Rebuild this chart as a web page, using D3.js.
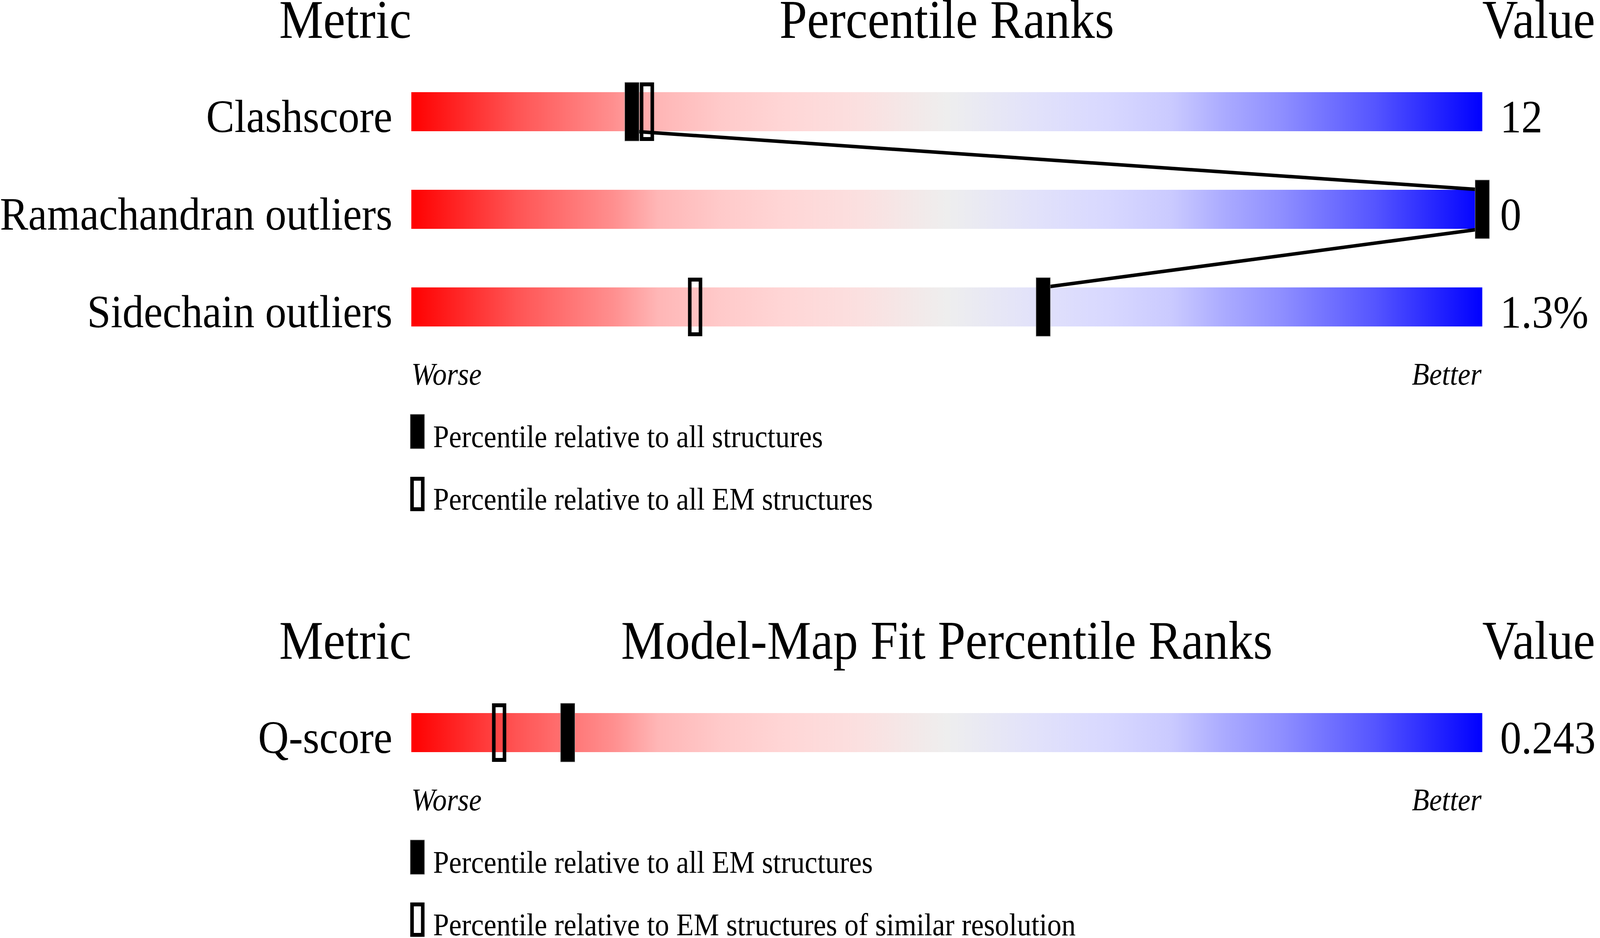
<!DOCTYPE html>
<html>
<head>
<meta charset="utf-8">
<script src="https://cdn.jsdelivr.net/npm/d3@7"></script>
<style>
  html, body { margin: 0; padding: 0; background: #ffffff; overflow: hidden; }
  svg { display: block; }
  text { font-family: "Liberation Serif", "Times New Roman", serif; fill: #000; }
</style>
</head>
<body>
<svg id="chart"></svg>
<script>
// ---------- data ----------
const geoMetrics = ["Clashscore", "Ramachandran outliers", "Sidechain outliers"];
const geoValues = ["12", "0", "1.3%"];
const geoPctAll = [20.6, 100, 59];      // filled marker: relative to all structures
const geoPctEM = [22, 100, 26.5];       // open marker: relative to all EM structures
const geoTitles = ["Metric", "Percentile Ranks", "Value"];
const geoLegend = ["Percentile relative to all structures", "Percentile relative to all EM structures"];

const fitMetrics = ["Q-score"];
const fitValues = ["0.243"];
const fitPctAll = [14.6];               // filled: relative to all EM structures
const fitPctRes = [8.2];                // open: relative to EM structures of similar resolution
const fitTitles = ["Metric", "Model-Map Fit Percentile Ranks", "Value"];
const fitLegend = ["Percentile relative to all EM structures", "Percentile relative to EM structures of similar resolution"];

const axisEnds = ["Worse", "Better"];

// gradient stops (offset %, colour)
const gradOffsets = [0, 10, 19, 23, 29, 35, 42, 50, 58, 65, 71, 76, 81, 90, 100];
const gradColors = ["#ff0000", "#ff5555", "#ff9090", "#ffb6b6", "#ffcaca", "#ffd6d6", "#fbe0e0",
                    "#eeeeee", "#e2e2fa", "#d8d8ff", "#cacaff", "#aaaaff", "#9090ff", "#5555ff", "#0000ff"];

// ---------- drawing ----------
const W = 4485, H = 2402;
const svg = d3.select("#chart")
  .attr("width", window.innerWidth).attr("height", window.innerHeight)
  .attr("viewBox", `0 0 ${W} ${H}`).attr("preserveAspectRatio", "none");
const x = d3.scaleLinear().domain([0, 100]).range([1153, 4155]);

const defs = svg.append("defs");
const grad = defs.append("linearGradient").attr("id", "slider")
  .attr("x1", "0%").attr("x2", "100%").attr("y1", "0%").attr("y2", "0%");
grad.selectAll("stop").data(gradOffsets).join("stop")
  .attr("offset", d => d + "%")
  .attr("stop-color", (d, i) => gradColors[i]);

const STEP = 250, MARK_W = 40, MARK_OVER = 25;

function section(g, titles, metrics, values, pctFilled, pctOpen, legend, titleY, firstBarY) {
  const y = d3.scaleBand()
    .domain(metrics)
    .range([firstBarY - STEP * 0.3, firstBarY - STEP * 0.3 + STEP * metrics.length])
    .paddingInner(0.6).paddingOuter(0.3);

  g.append("text").attr("x", x(0)).attr("y", titleY).attr("text-anchor", "end")
    .attr("font-size", 139).text(titles[0]);
  g.append("text").attr("x", (x(0) + x(100)) / 2).attr("y", titleY).attr("text-anchor", "middle")
    .attr("font-size", 139).text(titles[1]);
  g.append("text").attr("x", x(100)).attr("y", titleY).attr("text-anchor", "start")
    .attr("font-size", 139).text(titles[2]);

  g.selectAll("rect.bar").data(metrics).join("rect").attr("class", "bar")
    .attr("x", x(0)).attr("width", x(100) - x(0))
    .attr("y", d => y(d)).attr("height", y.bandwidth())
    .attr("fill", "url(#slider)");

  g.selectAll("text.lab").data(metrics).join("text").attr("class", "lab")
    .attr("x", 1100).attr("y", d => y(d) + y.bandwidth() + 2)
    .attr("text-anchor", "end").attr("font-size", 119).text(d => d);

  g.selectAll("text.val").data(values).join("text").attr("class", "val")
    .attr("x", 4205).attr("y", (d, i) => y(metrics[i]) + y.bandwidth() + 3)
    .attr("text-anchor", "start").attr("font-size", 119).text(d => d);

  g.selectAll("rect.open").data(pctOpen).join("rect").attr("class", "open")
    .attr("x", d => x(d) - MARK_W / 2 + 5).attr("width", MARK_W - 10)
    .attr("y", (d, i) => y(metrics[i]) - MARK_OVER + 5).attr("height", y.bandwidth() + 2 * MARK_OVER - 10)
    .attr("fill", "none").attr("stroke", "#000").attr("stroke-width", 10);

  if (metrics.length > 1) {
    const segs = d3.range(metrics.length - 1).map(i => [
      [x(pctFilled[i]), y(metrics[i]) + y.bandwidth()],
      [x(pctFilled[i + 1]), y(metrics[i + 1])]
    ]);
    g.selectAll("line.conn").data(segs).join("line").attr("class", "conn")
      .attr("x1", d => d[0][0]).attr("y1", d => d[0][1])
      .attr("x2", d => d[1][0]).attr("y2", d => d[1][1])
      .attr("stroke", "#000").attr("stroke-width", 9);
  }

  g.selectAll("rect.fill").data(pctFilled).join("rect").attr("class", "fill")
    .attr("x", d => x(d) - MARK_W / 2).attr("width", MARK_W)
    .attr("y", (d, i) => y(metrics[i]) - MARK_OVER).attr("height", y.bandwidth() + 2 * MARK_OVER)
    .attr("fill", "#000").attr("stroke", "#8a8a8a").attr("stroke-width", 1.2);

  const lastBottom = y(metrics[metrics.length - 1]) + y.bandwidth();
  const wbY = lastBottom + 149;
  g.append("text").attr("x", x(0)).attr("y", wbY).attr("text-anchor", "start")
    .attr("font-size", 80).attr("font-style", "italic").text(axisEnds[0]);
  g.append("text").attr("x", x(100) - 2).attr("y", wbY).attr("text-anchor", "end")
    .attr("font-size", 80).attr("font-style", "italic").text(axisEnds[1]);

  const legTop = wbY + 76;
  const LSTEP = 160;
  g.append("rect").attr("x", 1150).attr("y", legTop).attr("width", 40).attr("height", 88)
    .attr("fill", "#000").attr("stroke", "#8a8a8a").attr("stroke-width", 1.2);
  g.append("rect").attr("x", 1155).attr("y", legTop + LSTEP + 5).attr("width", 30).attr("height", 78)
    .attr("fill", "#fff").attr("stroke", "#000").attr("stroke-width", 10);
  g.selectAll("text.leg").data(legend).join("text").attr("class", "leg")
    .attr("x", 1214).attr("y", (d, i) => legTop + 84 + i * LSTEP)
    .attr("font-size", 80).text(d => d);
}

section(svg.append("g"), geoTitles, geoMetrics, geoValues, geoPctAll, geoPctEM, geoLegend, 97, 236);
section(svg.append("g"), fitTitles, fitMetrics, fitValues, fitPctAll, fitPctRes, fitLegend, 1687, 1826);
</script>
</body>
</html>
